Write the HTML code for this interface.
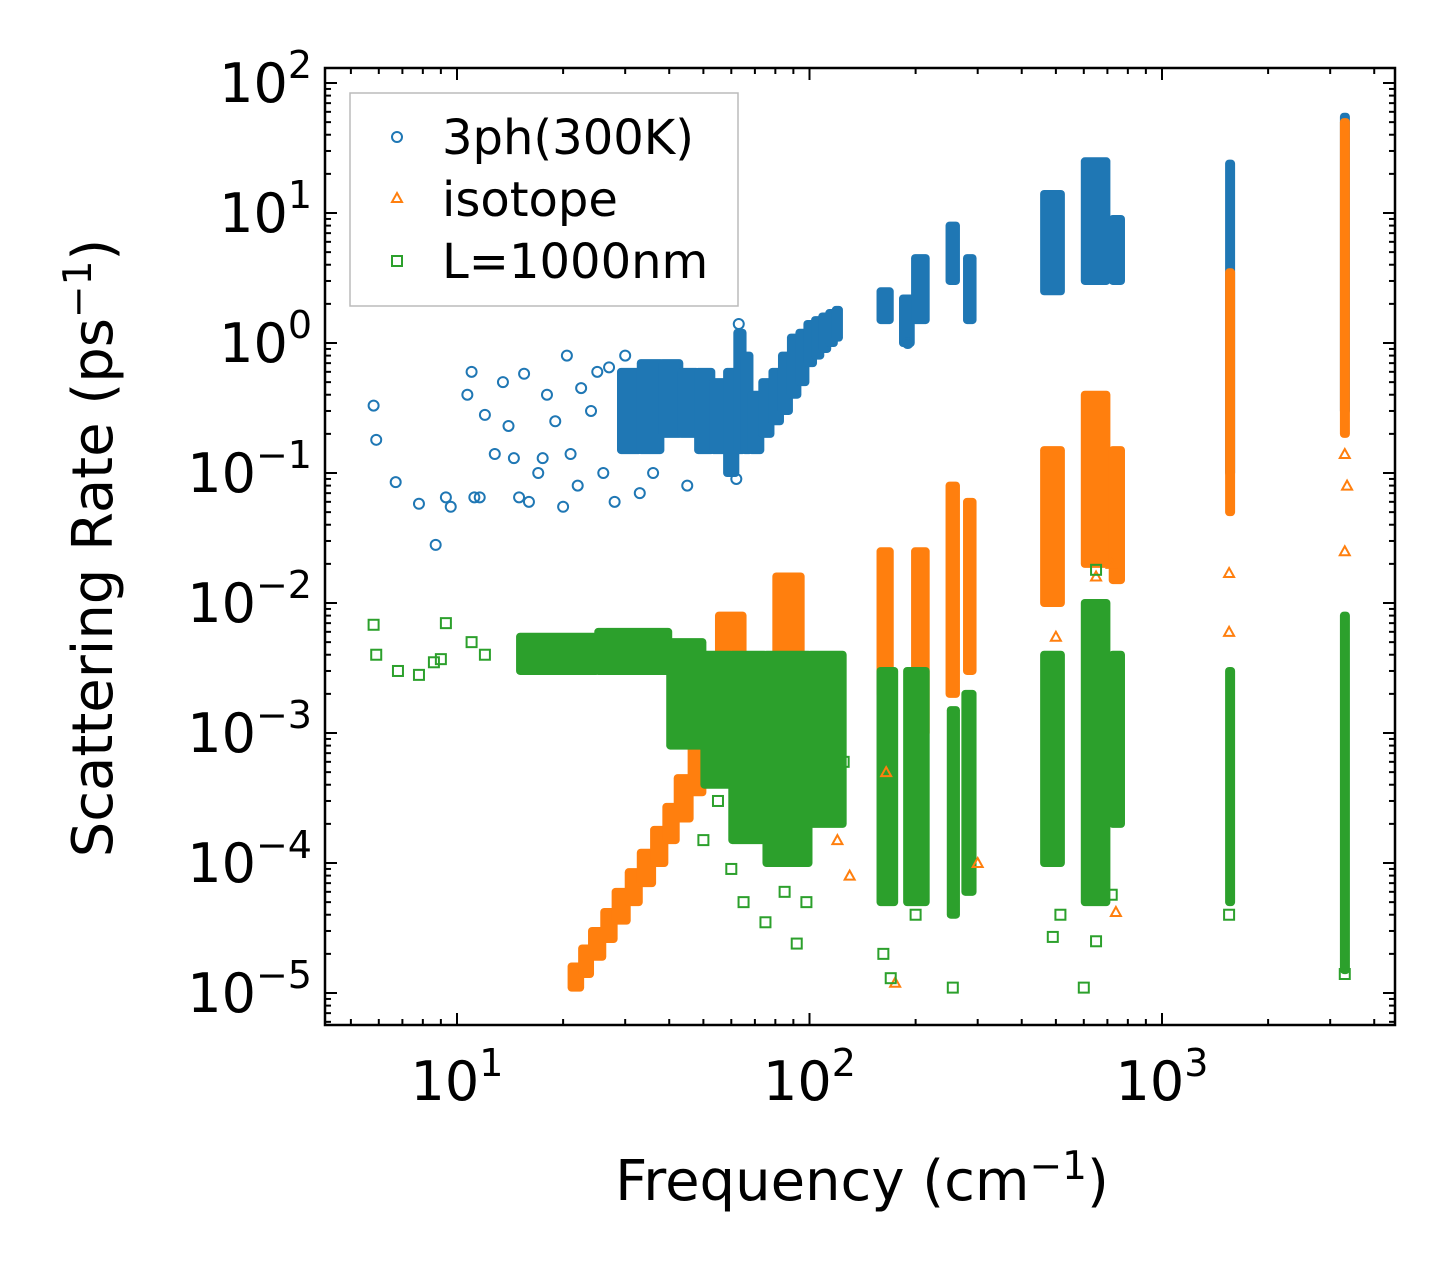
<!DOCTYPE html>
<html><head><meta charset="utf-8"><style>
html,body{margin:0;padding:0;background:#fff;}
svg{display:block;font-family:"DejaVu Sans","Liberation Sans",sans-serif;}
</style></head><body>
<svg id="chart" width="1455" height="1274" viewBox="0 0 1455 1274" xmlns="http://www.w3.org/2000/svg">
<g id="bands"></g>
<g id="points"></g>
<g id="axes"></g>
<rect x="325" y="68" width="1070" height="957" fill="none" stroke="#000" stroke-width="2.5"/>
<text x="862" y="1200" font-size="56" text-anchor="middle">Frequency (cm<tspan dy="-21" font-size="39">−1</tspan><tspan dy="21">)</tspan></text>
<text transform="translate(112,548) rotate(-90)" font-size="56" text-anchor="middle">Scattering Rate (ps<tspan dy="-21" font-size="39">−1</tspan><tspan dy="21">)</tspan></text>
<g>
<rect x="350" y="93" width="388" height="213" fill="#fff" stroke="#bbb" stroke-width="1.5"/>
<circle cx="397" cy="137" r="5" fill="none" stroke="#1f77b4" stroke-width="2"/>
<text x="442" y="154" font-size="48">3ph(300K)</text>
<path d="M397,193 L402,202 L392,202 Z" fill="none" stroke="#ff7f0e" stroke-width="2"/>
<text x="442" y="216" font-size="48">isotope</text>
<rect x="392" y="256" width="10" height="10" fill="none" stroke="#2ca02c" stroke-width="2"/>
<text x="442" y="278" font-size="48">L=1000nm</text>
</g>
</svg>
<script>
// axis ticks
const xTickExps = [1, 2, 3];
const yTickExps = [2, 1, 0, -1, -2, -3, -4, -5];
// dense bands: [freqStart, freqEnd, low, high]
const blueBands = [[29,33,0.15,0.6],[33,38,0.15,0.7],[38,43,0.2,0.7],[43,48,0.2,0.6],[48,53,0.15,0.6],[53,58,0.15,0.5],[58,62,0.1,0.6],[62,65,0.15,1.2],[65,68,0.15,0.8],[68,73,0.15,0.4],[73,78,0.2,0.5],[78,83,0.25,0.6],[83,88,0.3,0.8],[88,93,0.4,1.1],[93,98,0.5,1.2],[98,103,0.7,1.4],[103,108,0.8,1.5],[108,113,0.9,1.6],[113,118,1.0,1.7],[118,122,1.1,1.8],[158,170,1.5,2.5],[183,195,1.0,2.2],[198,215,1.5,4.5],[248,262,3,8],[278,292,1.5,4.5],[460,520,2.5,14],[600,700,3,25],[720,770,3,9],[1540,1565,0.1,24],[3260,3340,0.3,55]];
const orangeBands = [[21,22.5,1.1e-5,1.6e-5],[22.5,24,1.4e-5,2.2e-5],[24,26,1.9e-5,3e-5],[26,28,2.6e-5,4.2e-5],[28,30.5,3.6e-5,6e-5],[30.5,33,5e-5,8.5e-5],[33,36,7e-5,1.2e-4],[36,39,1e-4,1.8e-4],[39,42,1.5e-4,2.7e-4],[42,46,2.2e-4,4.5e-4],[46,50,3.5e-4,8e-4],[50,55,6e-4,2e-3],[55,65,1e-3,8e-3],[80,95,1.5e-3,1.6e-2],[158,170,2e-3,2.5e-2],[198,215,1e-3,2.5e-2],[248,262,2e-3,8e-2],[278,292,3e-3,6e-2],[460,520,1e-2,0.15],[600,700,2e-2,0.4],[720,770,1.5e-2,0.15],[1540,1565,0.05,3.5],[3260,3340,0.2,50]];
const greenBands = [[15,25,3e-3,5.5e-3],[25,40,3e-3,6e-3],[40,50,8e-4,5e-3],[50,60,4e-4,4e-3],[60,75,1.5e-4,4e-3],[75,100,1e-4,4e-3],[100,125,2e-4,4e-3],[158,175,5e-5,3e-3],[188,215,5e-5,3e-3],[250,262,4e-5,1.5e-3],[275,292,6e-5,2e-3],[460,520,1e-4,4e-3],[600,700,5e-5,1e-2],[720,770,2e-4,4e-3],[1540,1565,5e-5,3e-3],[3260,3340,1.5e-5,8e-3]];
// sparse points [freq, rate]
const bluePts = [[5.8,0.33],[5.9,0.18],[6.7,0.085],[7.8,0.058],[8.7,0.028],[9.3,0.065],[9.6,0.055],[10.7,0.4],[11,0.6],[11.2,0.065],[11.6,0.065],[12,0.28],[12.8,0.14],[13.5,0.5],[14,0.23],[14.5,0.13],[15,0.065],[15.5,0.58],[16,0.06],[17,0.1],[17.5,0.13],[18,0.4],[19,0.25],[20,0.055],[20.5,0.8],[21,0.14],[22,0.08],[22.5,0.45],[24,0.3],[25,0.6],[26,0.1],[27,0.65],[28,0.06],[30,0.8],[33,0.07],[36,0.1],[45,0.08],[62,0.09],[63,1.4],[190,1.0]];
const orangePts = [[120,1.5e-4],[130,8e-5],[175,1.2e-5],[165,5e-4],[300,1e-4],[740,4.2e-5],[500,5.5e-3],[650,1.6e-2],[720,2e-2],[1550,1.7e-2],[1550,6e-3],[3300,2.5e-2],[3350,8e-2],[3300,0.14]];
const greenPts = [[5.8,0.0068],[5.9,0.004],[6.8,0.003],[7.8,0.0028],[8.6,0.0035],[9,0.0037],[9.3,0.007],[11,0.005],[12,0.004],[50,1.5e-4],[55,3e-4],[60,9e-5],[65,5e-5],[75,3.5e-5],[85,6e-5],[92,2.4e-5],[98,5e-5],[125,6e-4],[162,2e-5],[170,1.3e-5],[200,4e-5],[255,1.1e-5],[490,2.7e-5],[515,4e-5],[600,1.1e-5],[650,2.5e-5],[720,5.7e-5],[1550,4e-5],[3300,1.4e-5],[650,1.8e-2]];

const NS = "http://www.w3.org/2000/svg";
const X0 = 457, XD = 352.5, Y0 = 993, YD = 130;
function xs(f){ return X0 + (Math.log10(f) - 1) * XD; }
function ys(v){ return Y0 - (Math.log10(v) + 5) * YD; }
const colors = {blue:"#1f77b4", orange:"#ff7f0e", green:"#2ca02c"};
const bandsG = document.getElementById('bands');
const ptsG = document.getElementById('points');
const axesG = document.getElementById('axes');

function marker(kind, x, y, parent){
  let el;
  if(kind === 'blue'){ el = document.createElementNS(NS,'circle'); el.setAttribute('cx',x); el.setAttribute('cy',y); el.setAttribute('r',5); }
  else if(kind === 'orange'){ el = document.createElementNS(NS,'path'); el.setAttribute('d',`M${x},${y-5} L${x+5},${y+4} L${x-5},${y+4} Z`); }
  else { el = document.createElementNS(NS,'rect'); el.setAttribute('x',x-5); el.setAttribute('y',y-5); el.setAttribute('width',10); el.setAttribute('height',10); }
  el.setAttribute('fill','none');
  el.setAttribute('stroke',colors[kind]);
  el.setAttribute('stroke-width',2);
  
  
  parent.appendChild(el);
}
function drawBands(kind, bands){
  bands.forEach(b => {
    const x1 = xs(b[0]), x2 = xs(b[1]), y1 = ys(b[3]), y2 = ys(b[2]);
    const r = document.createElementNS(NS,'rect');
    r.setAttribute('x', x1 - 3); r.setAttribute('y', y1 - 4);
    r.setAttribute('width', Math.max(x2 - x1 + 6, 10)); r.setAttribute('height', y2 - y1 + 8);
    r.setAttribute('rx', 4);
    r.setAttribute('fill', colors[kind]);
    
    
    bandsG.appendChild(r);
  });
}
drawBands('blue', blueBands);
drawBands('orange', orangeBands);
drawBands('green', greenBands);
bluePts.forEach(p => marker('blue', xs(p[0]), ys(p[1]), ptsG));
orangePts.forEach(p => marker('orange', xs(p[0]), ys(p[1]), ptsG));
greenPts.forEach(p => marker('green', xs(p[0]), ys(p[1]), ptsG));

function line(x1,y1,x2,y2,w,name){
  const l = document.createElementNS(NS,'line');
  l.setAttribute('x1',x1); l.setAttribute('y1',y1); l.setAttribute('x2',x2); l.setAttribute('y2',y2);
  l.setAttribute('stroke','#000'); l.setAttribute('stroke-width',w);
  
  
  axesG.appendChild(l);
}
function label(x,y,e,anchor,name){
  const t = document.createElementNS(NS,'text');
  t.setAttribute('x',x); t.setAttribute('y',y); t.setAttribute('font-size',54); t.setAttribute('text-anchor',anchor);
  t.innerHTML = `10<tspan dy="-24" font-size="38">${e < 0 ? '−' + (-e) : e}</tspan>`;
  
  
  axesG.appendChild(t);
}
const L = 325, R = 1395, T = 68, B = 1025;
for(let d = 0; d <= 3; d++){
  for(let m = 1; m <= 9; m++){
    const x = xs(Math.pow(10,d) * m);
    if(x < L || x > R) continue;
    const len = m === 1 ? 12 : 6;
    line(x,B,x,B-len,2,'x-tick'); line(x,T,x,T+len,2,'x-tick-top');
  }
}
xTickExps.forEach(e => label(xs(Math.pow(10,e)), 1100, e, 'middle', 'x-tick-label'));
for(let d = -6; d <= 2; d++){
  for(let m = 1; m <= 9; m++){
    const y = ys(Math.pow(10,d) * m);
    if(y < T || y > B) continue;
    const len = m === 1 ? 12 : 6;
    line(L,y,L+len,y,2,'y-tick'); line(R,y,R-len,y,2,'y-tick-right');
  }
}
yTickExps.forEach(e => label(312, ys(Math.pow(10,e)) + 19, e, 'end', 'y-tick-label'));
</script>
</body></html>
